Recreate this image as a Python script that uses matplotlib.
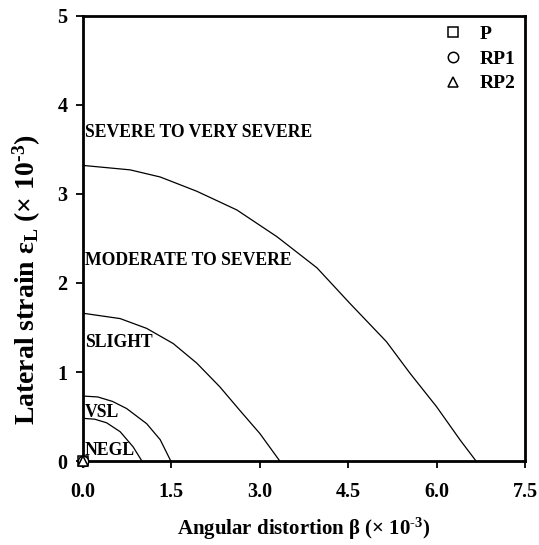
import matplotlib
matplotlib.use("Agg")
import matplotlib.pyplot as plt

plt.rcParams['font.family'] = ['Liberation Serif', 'DejaVu Serif']
plt.rcParams['mathtext.fontset'] = 'custom'
plt.rcParams['mathtext.rm'] = 'Liberation Serif:bold'
plt.rcParams['mathtext.it'] = 'Liberation Serif:bold'
plt.rcParams['mathtext.bf'] = 'Liberation Serif:bold'

# Damage category boundary curves (beta, eps_L) in x10^-3
negl_x = [0.0, 0.20, 0.40, 0.63, 0.85, 1.0]
negl_y = [0.48, 0.47, 0.43, 0.33, 0.16, 0.0]
vsl_x = [0.0, 0.25, 0.50, 0.74, 1.08, 1.31, 1.49]
vsl_y = [0.73, 0.72, 0.67, 0.59, 0.42, 0.24, 0.0]
slight_x = [0.0, 0.63, 1.08, 1.53, 1.93, 2.32, 2.66, 3.0, 3.34]
slight_y = [1.66, 1.60, 1.49, 1.32, 1.10, 0.835, 0.57, 0.31, 0.0]
severe_x = [0.0, 0.80, 1.31, 1.93, 2.61, 3.29, 3.97, 4.53, 5.15, 5.55, 6.00, 6.40, 6.67]
severe_y = [3.32, 3.27, 3.19, 3.03, 2.82, 2.52, 2.17, 1.77, 1.34, 0.985, 0.61, 0.236, 0.0]

# Data points
series_names = ['P', 'RP1', 'RP2']
series_markers = ['s', 'o', '^']
series_x = [0.0, 0.0, 0.0]
series_y = [0.0, 0.0, 0.0]

labels = ['SEVERE TO VERY SEVERE', 'MODERATE TO SEVERE', 'SLIGHT', 'VSL', 'NEGL']
label_y = [3.64, 2.20, 1.28, 0.494, 0.067]

xticks = [0.0, 1.5, 3.0, 4.5, 6.0, 7.5]
yticks = [0, 1, 2, 3, 4, 5]

fig = plt.figure(figsize=(5.39, 5.45), dpi=100)
ax = fig.add_axes([0.154, 0.154, 0.820, 0.817])

for xs, ys in [(negl_x, negl_y), (vsl_x, vsl_y), (slight_x, slight_y), (severe_x, severe_y)]:
    ax.plot(xs, ys, color='black', lw=0.9)

for name, m, x, y in zip(series_names, series_markers, series_x, series_y):
    ax.plot([x], [y], linestyle='none', marker=m, markersize=7.5, markerfacecolor='white',
            markeredgecolor='black', markeredgewidth=1.1, label=name, clip_on=False, zorder=5)

for t, y in zip(labels, label_y):
    ax.text(0.034, y, t, fontsize=12.7, fontweight='bold', va='baseline', ha='left')

ax.set_xlim(0, 7.5)
ax.set_ylim(0, 5)
ax.set_xticks(xticks)
ax.set_xticklabels([f'{v:.1f}' for v in xticks])
ax.set_yticks(yticks)
ax.set_yticklabels([str(v) for v in yticks])
for lab in ax.get_xticklabels() + ax.get_yticklabels():
    lab.set_fontweight('bold')
    lab.set_fontsize(14.5)
ax.tick_params(axis='both', direction='out', length=5, width=1.3)
ax.tick_params(axis='x', pad=10)
ax.tick_params(axis='y', pad=6)
for s in ax.spines.values():
    s.set_linewidth(2.0)

ax.set_xlabel(r'Angular distortion $\mathbf{\beta}$ (× 10$^{\text{-3}}$)', fontsize=15,
              fontweight='bold', labelpad=10)
ax.set_ylabel(r'Lateral strain $\mathbf{\varepsilon}_{\mathbf{L}}$ (× 10$^{\text{-3}}$)', fontsize=20,
              fontweight='bold', va='center', ha='center')
ax.yaxis.set_label_coords(-0.128, 0.407)

leg = ax.legend(loc='upper right', bbox_to_anchor=(1.0, 1.0), frameon=False,
                prop={'family': 'Liberation Serif', 'weight': 'bold', 'size': 14},
                handlelength=1.2, handletextpad=0.75, labelspacing=0.36, borderaxespad=0.1)

fig.savefig('out.png', dpi=100)
